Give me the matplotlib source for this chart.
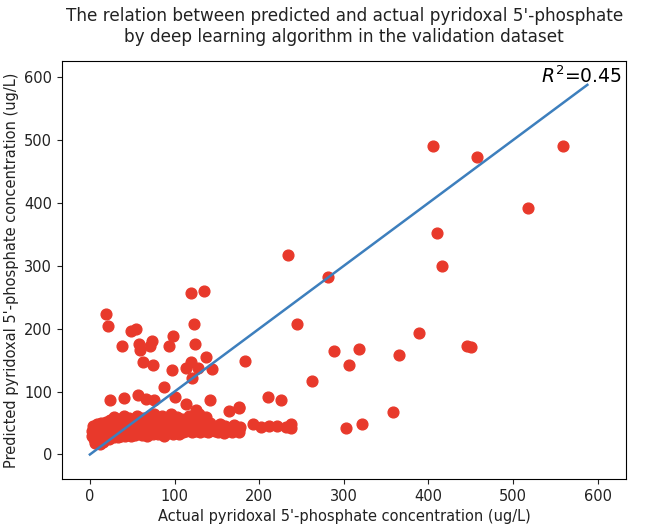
import matplotlib
matplotlib.use('Agg')
import matplotlib.pyplot as plt

# outlying / scattered points (actual, predicted)
x_out = [405, 458, 559, 518, 410, 416, 234, 282, 245, 389, 288, 318, 306, 365, 446, 450,
         183, 262, 210, 226, 358, 303, 322, 176, 193, 202, 212, 221, 232, 238, 238, 176,
         119, 135, 19, 21, 123, 49, 55, 98, 38, 58, 59, 73, 71, 94, 124, 137, 63, 75,
         97, 114, 120, 128, 121, 144, 88, 101, 142, 114, 176, 165, 24, 40, 57, 66, 76,
         125, 129]
y_out = [491, 473, 491, 392, 353, 300, 317, 282, 207, 194, 164, 168, 142, 159, 173, 171,
         148, 117, 92, 87, 67, 42, 48, 75, 48, 43, 46, 46, 43, 49, 42, 41,
         257, 260, 223, 205, 207, 196, 200, 189, 173, 176, 167, 180, 173, 172, 175, 155, 147, 142,
         135, 138, 147, 138, 122, 136, 108, 92, 87, 80, 74, 69, 86, 90, 94, 89, 86,
         70, 65]

# dense low-concentration cluster
x_low = [2, 3, 4, 5, 5, 6, 7, 8, 8, 9, 10, 10, 11, 12, 12, 13, 14, 15, 15, 16, 17, 18, 18, 19, 20, 20,
         6, 12, 16,
         21, 22, 23, 24, 24, 25, 26, 27, 28, 28, 29, 30, 31, 32, 33, 34, 35, 35, 36, 37, 38, 39, 40, 40,
         41, 42, 43, 44, 45, 46, 47, 48, 49, 50, 51, 52, 53, 54, 55, 56, 57, 58, 59, 60,
         61, 62, 63, 64, 65, 66, 67, 68, 69, 70, 71, 72, 73, 74, 75, 76, 77, 78, 79, 80,
         81, 82, 83, 84, 85, 86, 87, 88, 89, 90, 91, 92, 93, 94, 95, 96, 97, 98, 99, 100,
         101, 102, 103, 104, 105, 106, 107, 108, 109, 110, 112, 113, 114, 116, 117, 118, 120, 121,
         122, 124, 125, 126, 128, 129, 130,
         131, 133, 134, 136, 137, 139, 140, 142, 144, 146, 148, 150, 152, 154, 156, 158, 160, 162,
         165, 168, 170, 173, 176, 178]
y_low = [30, 38, 45, 25, 33, 42, 28, 36, 48, 22, 31, 40, 27, 35, 44, 50, 24, 30, 39, 46, 27, 34, 42, 52, 29, 37,
         18, 16, 20,
         45, 25, 33, 40, 55, 30, 47, 36, 28, 60, 43, 33, 50, 38, 28, 45, 56, 34, 40, 30, 48, 36, 62, 42,
         30, 52, 37, 45, 33, 58, 41, 29, 48, 36, 55, 43, 31, 50, 39, 62, 34, 46, 54, 40,
         31, 49, 58, 37, 44, 52, 30, 41, 60, 35, 47, 55, 39, 32, 45, 64, 38, 50, 43, 33,
         56, 40, 47, 35, 62, 44, 30, 52, 38, 46, 58, 34, 42, 50, 37, 65, 45, 32, 53, 40,
         48, 36, 60, 43, 33, 51, 39, 46, 57, 35, 44, 52, 38, 47, 62, 41, 55, 36,
         49, 43, 58, 38, 50, 45, 35,
         54, 42, 48, 38, 60, 44, 35, 50, 40, 46, 37, 43, 36, 48, 40, 34, 45, 38,
         42, 36, 47, 40, 35, 44]

x_vals = x_out + x_low
y_vals = y_out + y_low
r2 = 0.45
line_end = 588

fig = plt.figure(figsize=(6.49, 5.3), dpi=100)
ax = fig.add_axes([0.0955, 0.0962, 0.8695, 0.7888])

ax.scatter(x_vals, y_vals, s=60, c='#e8392b', zorder=2)
ax.plot([0, line_end], [0, line_end], color='#3d7fbd', linewidth=1.8, zorder=3)

ax.set_xlim(-33, 634)
ax.set_ylim(-39, 626)
ax.set_xticks([0, 100, 200, 300, 400, 500, 600])
ax.set_yticks([0, 100, 200, 300, 400, 500, 600])
ax.tick_params(labelsize=10.5, colors='#222222')

ax.text(0.993, 0.99, '$R^2$=%.2f' % r2, transform=ax.transAxes, ha='right', va='top',
        fontsize=13.5, zorder=4)

ax.set_xlabel("Actual pyridoxal 5'-phosphate concentration (ug/L)", fontsize=10.5, color='#222222')
ax.set_ylabel("Predicted pyridoxal 5'-phosphate concentration (ug/L)", fontsize=10.5, color='#222222')
ax.set_title("The relation between predicted and actual pyridoxal 5'-phosphate\n"
             "by deep learning algorithm in the validation dataset", fontsize=12.2,
             color='#222222', pad=14)

plt.savefig("out.png", dpi=100)
